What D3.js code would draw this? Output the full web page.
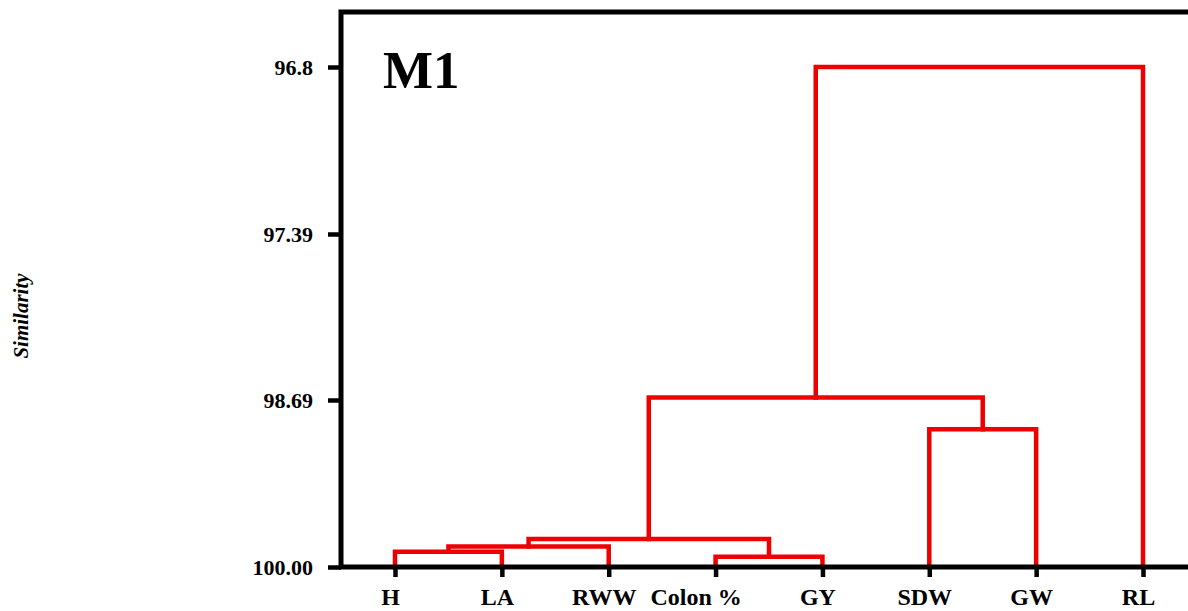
<!DOCTYPE html>
<html>
<head>
<meta charset="utf-8">
<script src="https://cdn.jsdelivr.net/npm/d3@7"></script>
<style>
  html, body { margin: 0; padding: 0; background: #fff; }
  svg { display: block; }
</style>
</head>
<body>
<svg id="chart" width="1188" height="611"></svg>
<script>
// ---- data ----
const leaves = ["H", "LA", "RWW", "Colon %", "GY", "SDW", "GW", "RL"];
const yTickValues = [100, 98.69, 97.39, 96.8];
const yTickLabels = ["100.00", "98.69", "97.39", "96.8"];
// merges: children refer to leaf names or earlier merge ids ("m0", "m1", ...)
const mergeLeft   = ["H",     "m0",   "Colon %", "m1",   "SDW",  "m3",   "m5"];
const mergeRight  = ["LA",    "RWW",  "GY",      "m2",   "GW",   "m4",   "RL"];
const mergeHeight = [99.88,   99.84,  99.92,     99.78,  98.92,  98.67,  96.8];
const panelLabel = "M1";
const yTitle = "Similarity";

// ---- layout ----
const svg = d3.select("#chart");
const axisX = 341, baseY = 567, topY = 12;
const red = "#ee0000";

const x = d3.scalePoint().domain(leaves).range([395, 1143]);
const y = d3.scaleLinear().domain(yTickValues).range([567, 400, 234, 67]);

// node positions
const pos = {};
leaves.forEach(l => pos[l] = { x: x(l), y: y(100) });
const segs = [];
mergeLeft.forEach((a, i) => {
  const b = mergeRight[i];
  const h = y(mergeHeight[i]);
  const pa = pos[a], pb = pos[b];
  segs.push([[pa.x, pa.y], [pa.x, h], [pb.x, h], [pb.x, pb.y]]);
  pos["m" + i] = { x: (pa.x + pb.x) / 2, y: h };
});

// dendrogram links
const line = d3.line();
svg.append("g").selectAll("path").data(segs).join("path")
  .attr("d", d => line(d))
  .attr("fill", "none")
  .attr("stroke", red)
  .attr("stroke-width", 4.5)
  .attr("stroke-linejoin", "miter")
  .attr("stroke-linecap", "square");

// frame
svg.append("path")
  .attr("d", `M1188,${topY} H${axisX} V${baseY} H1188`)
  .attr("fill", "none")
  .attr("stroke", "#000")
  .attr("stroke-width", 5)
  .attr("stroke-linejoin", "miter");

// y axis
const yAxis = d3.axisLeft(y)
  .tickValues(yTickValues)
  .tickFormat((d, i) => yTickLabels[i])
  .tickSize(13)
  .tickPadding(15);
const gy = svg.append("g").attr("transform", `translate(${axisX},0)`).call(yAxis);
gy.select(".domain").remove();
gy.selectAll(".tick line").attr("stroke", "#000").attr("stroke-width", 4.5);
gy.selectAll(".tick text")
  .attr("font-family", "'Liberation Serif', 'Times New Roman', serif")
  .attr("font-weight", "bold")
  .attr("font-size", 22)
  .attr("fill", "#000");

// x axis
const xAxis = d3.axisBottom(x).tickSize(10).tickPadding(0);
const gx = svg.append("g").attr("transform", `translate(0,${baseY})`).call(xAxis);
gx.select(".domain").remove();
gx.selectAll(".tick line").attr("stroke", "#000").attr("stroke-width", 4.5);
gx.selectAll(".tick text")
  .attr("font-family", "'Liberation Serif', 'Times New Roman', serif")
  .attr("font-weight", "bold")
  .attr("font-size", 24)
  .attr("fill", "#000")
  .attr("dy", null)
  .attr("y", 38)
  .attr("dx", d => d === "Colon %" ? -20 : -5);

// panel label
svg.append("text")
  .attr("x", 383).attr("y", 88)
  .attr("font-family", "'Liberation Serif', 'Times New Roman', serif")
  .attr("font-weight", "bold")
  .attr("font-size", 53)
  .text(panelLabel);

// y title
svg.append("text")
  .attr("transform", "translate(28,316) rotate(-90)")
  .attr("text-anchor", "middle")
  .attr("font-family", "'Liberation Serif', 'Times New Roman', serif")
  .attr("font-weight", "bold")
  .attr("font-style", "italic")
  .attr("font-size", 21)
  .text(yTitle);
</script>
</body>
</html>
